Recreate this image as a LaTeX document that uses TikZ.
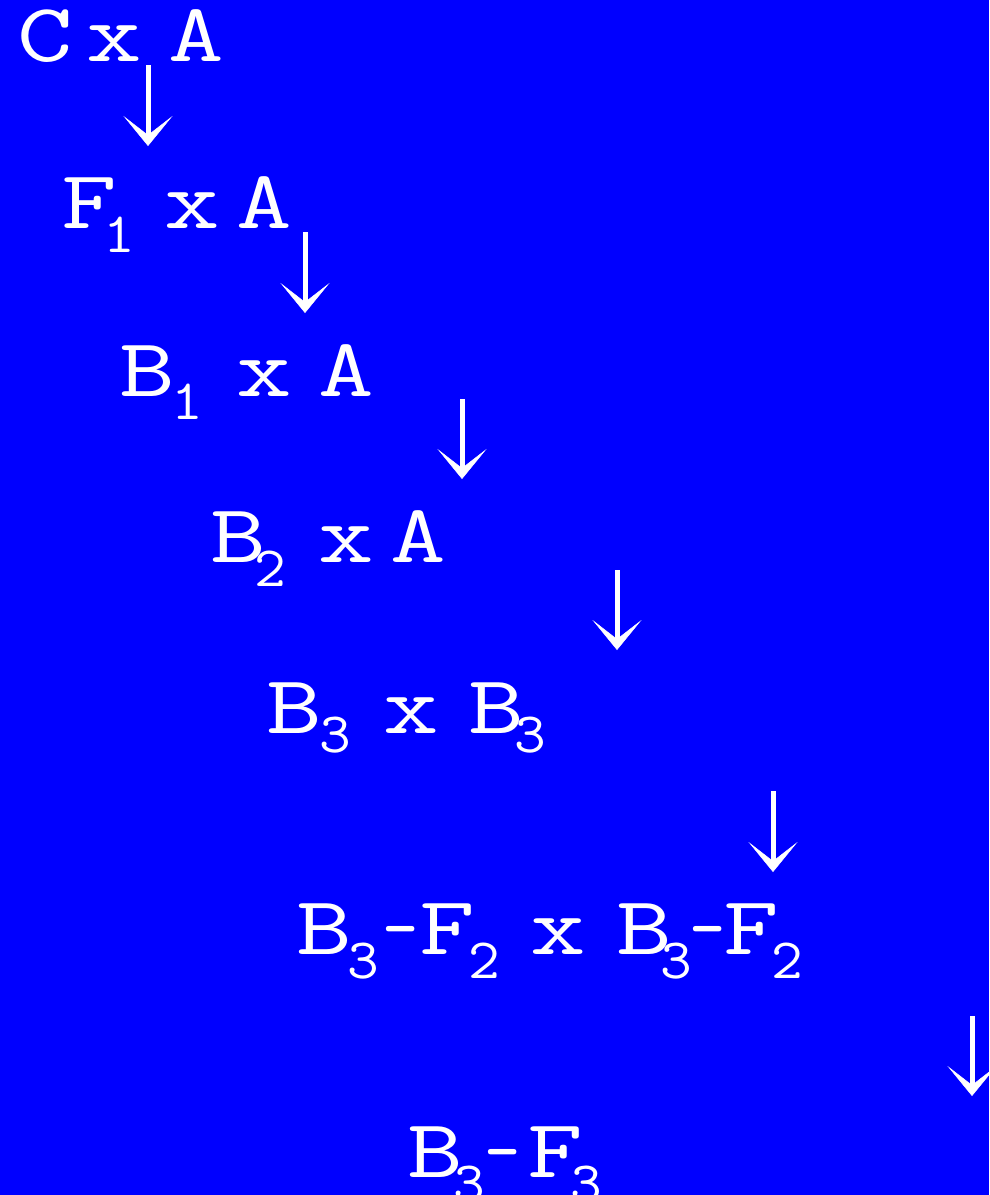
\documentclass[tikz,border=0pt]{standalone}
\usepackage{fontspec}
\usetikzlibrary{arrows.meta}
\newfontfamily\typeface[FakeStretch=1.3]{Latin Modern Mono}
\newfontfamily\subface[FakeStretch=1.08]{Latin Modern Mono}
\newfontfamily\dashface[FakeStretch=0.85]{Latin Modern Mono}
\definecolor{bgblue}{RGB}{0,0,255}
\newcommand\bigsz{\typeface\fontsize{83}{83}\selectfont}
\newcommand\smsz{\subface\fontsize{57}{57}\selectfont}
% a glyph placed at a horizontal offset from the start of its line
\newcommand\gl[2]{\makebox[0pt][l]{\hspace*{#1pt}\bigsz#2}}
% a lowered digit: offset, drop, digit
\newcommand\sub[3]{\makebox[0pt][l]{\hspace*{#1pt}\raisebox{-#2pt}{\smsz#3}}}
% a short hyphen at an offset
\newcommand\hy[1]{\makebox[0pt][l]{\hspace*{#1pt}\dashface\fontsize{83}{83}\selectfont-}}
\begin{document}
\begin{tikzpicture}[x=1pt,y=-1pt,
  line/.style={text=white,inner sep=0pt,anchor=base west},
  flow/.style={draw=white,line width=5pt,
    -{Stealth[length=30pt,width=49pt,inset=19pt,line width=0.5pt]}}]
\useasboundingbox (0,0) rectangle (989,1195);
\clip (0,0) rectangle (989,1195);
\fill[bgblue] (0,0) rectangle (989,1195);

% the rows of the chain
\node[line] (r1) at (17,61)
  {\gl{0}{C}\gl{69}{x}\gl{151}{A}\hspace*{206pt}};
\node[line] (r2) at (61,228)
  {\gl{0}{F}\sub{42}{24}{1}\gl{103}{x}\gl{175}{A}\hspace*{231pt}};
\node[line] (r3) at (119,396)
  {\gl{0}{B}\sub{52}{23}{1}\gl{117}{x}\gl{199}{A}\hspace*{254pt}};
\node[line] (r4) at (210,562)
  {\gl{0}{B}\sub{44}{24}{2}\gl{108}{x}\gl{180}{A}\hspace*{235pt}};
\node[line] (r5) at (266,733)
  {\gl{0}{B}\sub{53}{19}{3}\gl{117}{x}\gl{202}{B}\sub{248}{19}{3}\hspace*{277pt}};
\node[line] (r6) at (296,954)
  {\gl{0}{B}\sub{51}{24}{3}\hy{86}\gl{123}{F}\sub{172}{24}{2}%
   \gl{234}{x}\gl{320}{B}\sub{364}{24}{3}\hy{393}\gl{427}{F}\sub{475}{24}{2}\hspace*{504pt}};
\node[line] (r7) at (407,1177)
  {\gl{0}{B}\sub{46}{24}{3}\hy{77}\gl{120}{F}\sub{163}{24}{3}\hspace*{192pt}};

% the arrows between the rows
\coordinate (a1s) at (148,65);   \coordinate (a1e) at (148,146);
\coordinate (a2s) at (305,232);  \coordinate (a2e) at (305,313);
\coordinate (a3s) at (462,399);  \coordinate (a3e) at (462,479);
\coordinate (a4s) at (617,570);  \coordinate (a4e) at (617,650);
\coordinate (a5s) at (773,791);  \coordinate (a5e) at (773,872);
\coordinate (a6s) at (972,1016); \coordinate (a6e) at (972,1096);
\foreach \i in {1,...,6} \draw[flow] (a\i s) -- (a\i e);
\end{tikzpicture}
\end{document}
